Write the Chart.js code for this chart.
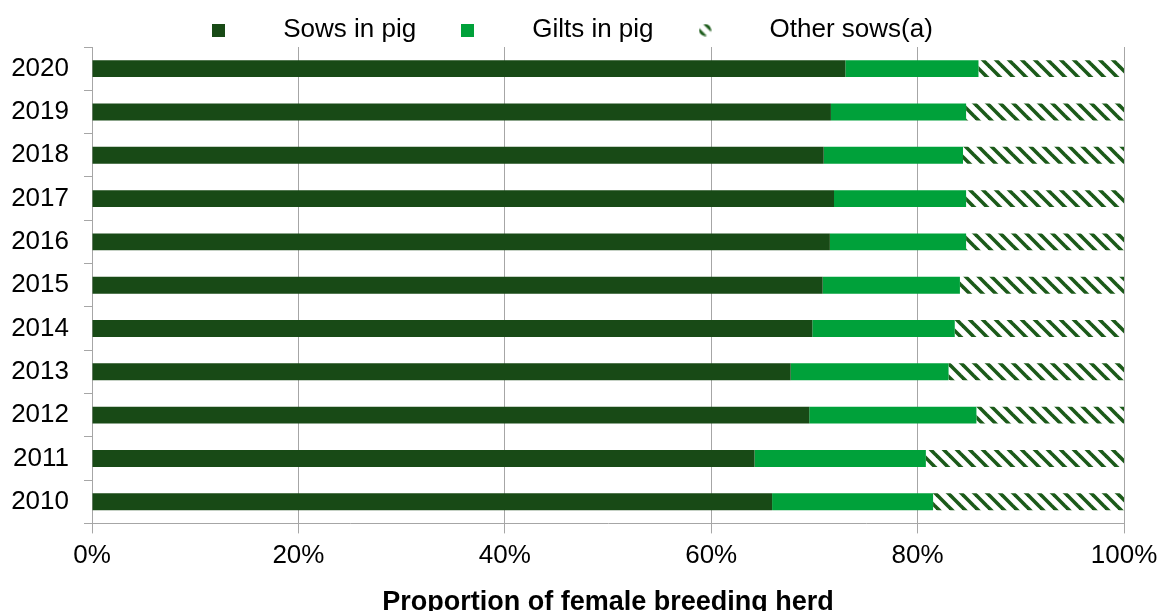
<!DOCTYPE html>
<html>
<head>
<meta charset="utf-8">
<script src="https://cdn.jsdelivr.net/npm/chart.js@4.4.1/dist/chart.umd.min.js"></script>
<style>
  html, body { margin: 0; padding: 0; background: #fff; overflow: hidden; }
  #wrap { width: 1161px; height: 619px; }
</style>
</head>
<body>
<div id="wrap"><canvas id="herdChart" width="1161" height="619"></canvas></div>
<script>
const years = ['2020', '2019', '2018', '2017', '2016', '2015', '2014', '2013', '2012', '2011', '2010'];
const sowsInPig = [73.0, 71.6, 70.9, 71.9, 71.5, 70.8, 69.8, 67.7, 69.5, 64.2, 65.9];
const giltsInPig = [12.9, 13.1, 13.5, 12.8, 13.2, 13.3, 13.8, 15.3, 16.2, 16.6, 15.6];
const otherSows = [14.1, 15.3, 15.6, 15.3, 15.3, 15.9, 16.4, 17.0, 14.3, 19.2, 18.5];
const seriesNames = ['Sows in pig', 'Gilts in pig', 'Other sows(a)'];
const xTicks = [0, 20, 40, 60, 80, 100];

const darkGreen = '#184a16';
const brightGreen = '#00a13a';
const hatchGreen = '#1b5a19';
const axisGrey = '#a6a6a6';

function hatchTile(size) {
    const c = document.createElement('canvas');
    c.width = size; c.height = size;
    const g = c.getContext('2d');
    g.fillStyle = '#fff';
    g.fillRect(0, 0, size, size);
    g.strokeStyle = hatchGreen;
    g.lineWidth = 3.6;
    for (const k of [-size, 0, size]) {
        g.beginPath();
        g.moveTo(k - 2, -2);
        g.lineTo(k + size + 2, size + 2);
        g.stroke();
    }
    return c;
}

const tile = hatchTile(13);
const ctx = document.getElementById('herdChart').getContext('2d');
const hatch = ctx.createPattern(tile, 'repeat');

// legend markers: 13px squares, the hatched one shows two short dashes
function marker(fill) {
    const c = document.createElement('canvas');
    c.width = 13; c.height = 13;
    const g = c.getContext('2d');
    if (fill === 'hatch') {
        g.beginPath();
        g.arc(6.5, 6.5, 6, 0, Math.PI * 2);
        g.clip();
        g.translate(6.5, 0);
        g.fillStyle = g.createPattern(tile, 'repeat');
        g.fillRect(-6.5, 0, 13, 13);
    } else {
        g.fillStyle = fill;
        g.fillRect(0, 0, 13, 13);
    }
    return c;
}
const markers = [marker(darkGreen), marker(brightGreen), marker('hatch')];

const fontFamily = "'Liberation Sans', Arial, sans-serif";

// legend sits a bit closer to the plot and a bit more to the left than default
const legendTweak = {
    id: 'legendTweak',
    beforeLayout(chart) {
        const lg = chart.legend;
        if (lg && !lg._tweaked) {
            const fit = lg.fit;
            lg.fit = function () {
                fit.call(this);
                this.height -= 6;
            };
            lg._tweaked = true;
        }
    },
    afterLayout(chart) {
        chart.legend.right -= 24;
    }
};

new Chart(ctx, {
    type: 'bar',
    plugins: [legendTweak],
    data: {
        labels: years,
        datasets: [
            { label: seriesNames[0], data: sowsInPig, backgroundColor: darkGreen },
            { label: seriesNames[1], data: giltsInPig, backgroundColor: brightGreen },
            { label: seriesNames[2], data: otherSows, backgroundColor: hatch }
        ]
    },
    options: {
        indexAxis: 'y',
        responsive: false,
        animation: false,
        barPercentage: 0.39,
        categoryPercentage: 1,
        layout: {
            padding: { top: 17, right: 37, left: 0, bottom: 0 }
        },
        plugins: {
            tooltip: { enabled: false },
            legend: {
                position: 'top',
                labels: {
                    usePointStyle: true,
                    pointStyleWidth: 103,
                    padding: 0,
                    color: '#000',
                    font: { family: fontFamily, size: 26 },
                    generateLabels: (chart) => chart.data.datasets.map((ds, i) => ({
                        text: ds.label,
                        pointStyle: markers[i],
                        fillStyle: 'transparent',
                        strokeStyle: 'transparent',
                        lineWidth: 0,
                        hidden: false,
                        datasetIndex: i
                    }))
                }
            }
        },
        scales: {
            x: {
                stacked: true,
                min: 0,
                max: 100,
                afterBuildTicks: (scale) => {
                    scale.ticks = xTicks.map(v => ({ value: v }));
                },
                afterFit: (scale) => { scale.paddingRight = 37; },
                ticks: {
                    color: '#000',
                    padding: 7,
                    font: { family: fontFamily, size: 26 },
                    callback: (v) => v + '%'
                },
                grid: {
                    color: axisGrey,
                    lineWidth: 1,
                    tickLength: 10
                },
                border: { color: axisGrey },
                title: {
                    display: true,
                    text: 'Proportion of female breeding herd',
                    color: '#000',
                    font: { family: fontFamily, size: 27, weight: 'bold' },
                    padding: { top: 8, bottom: 0 }
                }
            },
            y: {
                stacked: true,
                afterFit: (scale) => { scale.width = 92; },
                ticks: {
                    color: '#000',
                    padding: 15,
                    font: { family: fontFamily, size: 26 }
                },
                grid: {
                    offset: true,
                    drawOnChartArea: false,
                    color: axisGrey,
                    tickLength: 8
                },
                border: { color: axisGrey }
            }
        }
    }
});
</script>
</body>
</html>
